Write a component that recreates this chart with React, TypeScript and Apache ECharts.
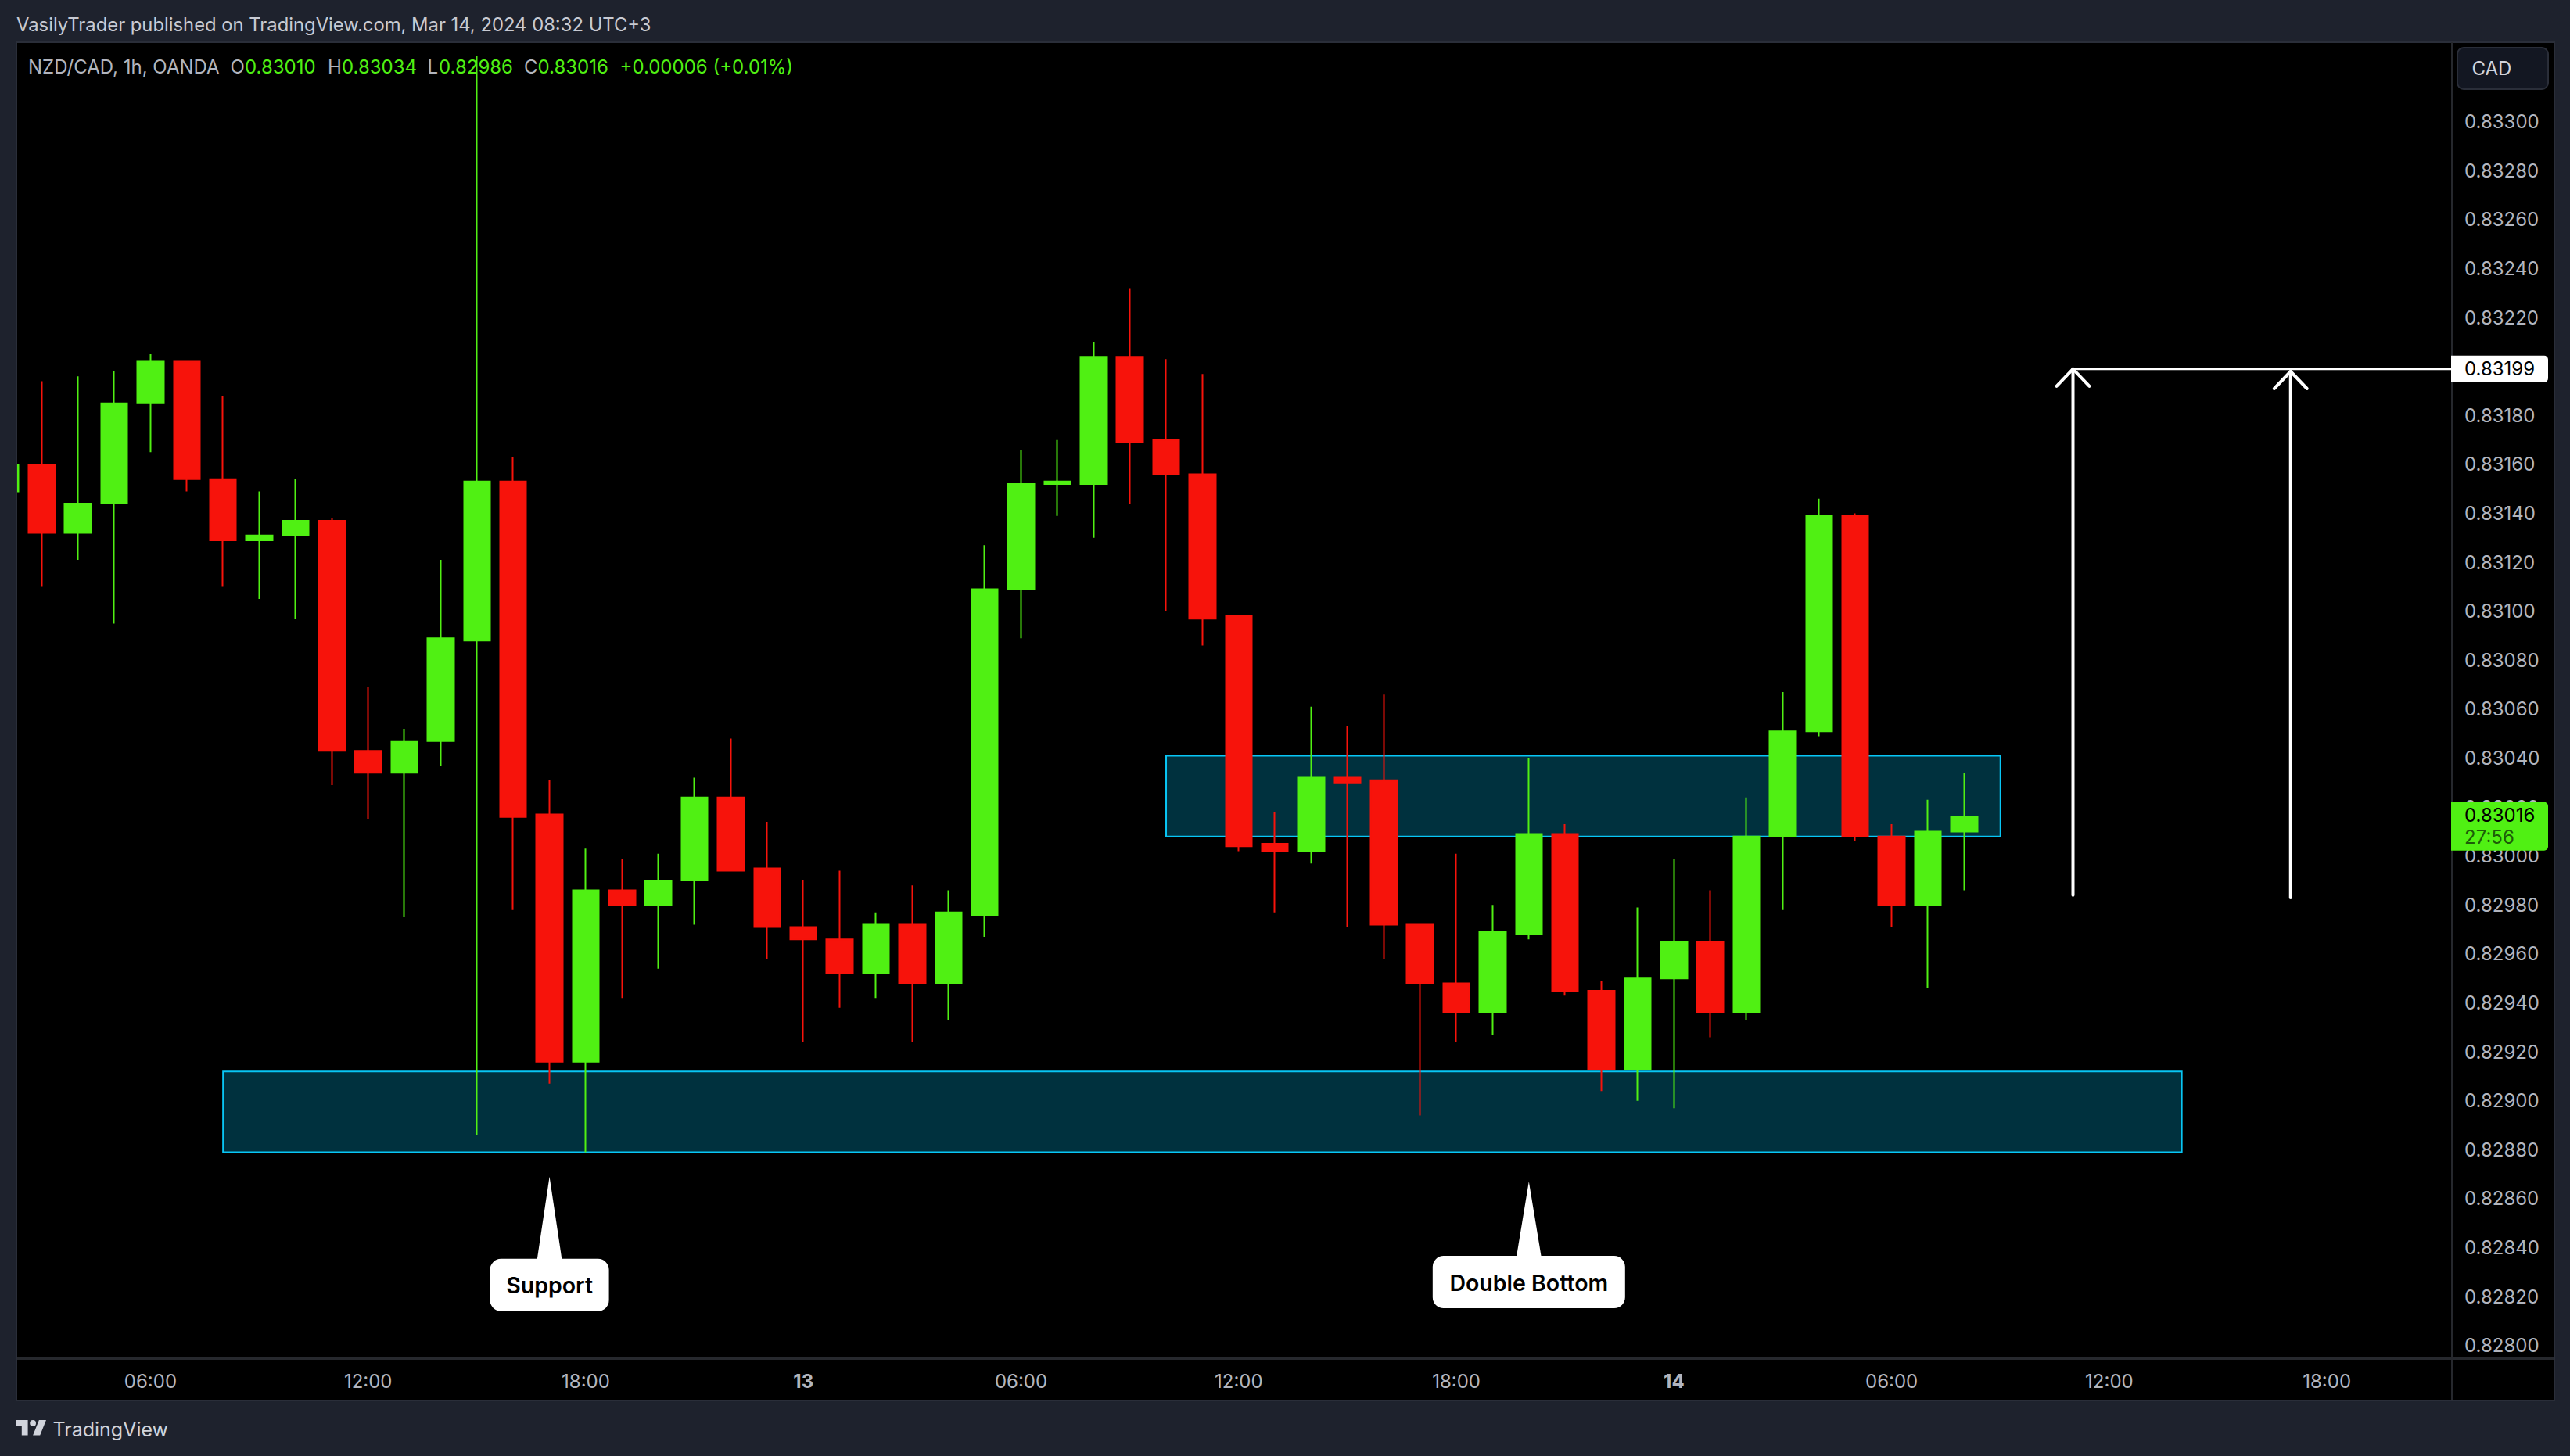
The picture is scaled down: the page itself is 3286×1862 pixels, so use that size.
import React, { useEffect, useRef } from "react";
import * as echarts from "echarts";

// ---- data -------------------------------------------------------------
const opens = [0.83149,0.8316,0.83132,0.83144,0.83185,0.83202,0.83154,0.83129,0.83131,0.83137,0.83043,0.83034,0.83047,0.83088,0.83153,0.83017,0.82916,0.82986,0.8298,0.8299,0.83024,0.82995,0.82971,0.82966,0.82952,0.82972,0.82948,0.82976,0.83109,0.83152,0.83152,0.83204,0.8317,0.83156,0.83098,0.83005,0.83002,0.83032,0.83031,0.82972,0.82948,0.82936,0.82968,0.83009,0.82945,0.82913,0.8295,0.82965,0.82936,0.83008,0.83051,0.83139,0.83008,0.8298,0.8301];
const closes = [0.8316,0.83132,0.83144,0.83185,0.83202,0.83154,0.83129,0.83131,0.83137,0.83043,0.83034,0.83047,0.83089,0.83153,0.83016,0.82916,0.82986,0.8298,0.8299,0.83024,0.82994,0.82971,0.82966,0.82952,0.82972,0.82948,0.82977,0.83109,0.83152,0.83153,0.83204,0.83169,0.83156,0.83097,0.83004,0.83002,0.83032,0.8303,0.82972,0.82948,0.82936,0.82969,0.83009,0.82945,0.82913,0.8295,0.82965,0.82936,0.83008,0.83051,0.83139,0.83008,0.8298,0.8301,0.83016];
const highs = [0.83165,0.83194,0.83196,0.83198,0.83205,0.83202,0.83188,0.83149,0.83154,0.83138,0.83069,0.83052,0.83121,0.83327,0.83163,0.83031,0.83003,0.82999,0.83001,0.83032,0.83048,0.83014,0.8299,0.82994,0.82977,0.82988,0.82986,0.83127,0.83166,0.8317,0.8321,0.83232,0.83203,0.83197,0.83098,0.83018,0.83061,0.83053,0.83066,0.82972,0.83001,0.8298,0.8304,0.83013,0.82949,0.82979,0.82999,0.82986,0.83024,0.83067,0.83146,0.8314,0.83013,0.83023,0.83034];
const lows = [0.8314,0.8311,0.83121,0.83095,0.83165,0.83149,0.8311,0.83105,0.83097,0.83029,0.83015,0.82975,0.83037,0.82886,0.82978,0.82907,0.82879,0.82942,0.82954,0.82972,0.82994,0.82958,0.82924,0.82938,0.82942,0.82924,0.82933,0.82967,0.83089,0.83139,0.8313,0.83144,0.831,0.83086,0.83002,0.82977,0.82997,0.82971,0.82958,0.82894,0.82924,0.82927,0.82966,0.82943,0.82904,0.829,0.82897,0.82926,0.82933,0.82978,0.83049,0.83006,0.82971,0.82946,0.82986];

const priceTicks = [0.833,0.8328,0.8326,0.8324,0.8322,0.832,0.8318,0.8316,0.8314,0.8312,0.831,0.8308,0.8306,0.8304,0.8302,0.83,0.8298,0.8296,0.8294,0.8292,0.829,0.8288,0.8286,0.8284,0.8282,0.828];
const timeTickBars = [4,10,16,22,28,34,40,46,52,58,64];
const timeTickLabels = ["06:00","12:00","18:00","13","06:00","12:00","18:00","14","06:00","12:00","18:00"];

// [bar from, bar to, top price, bottom price]
const zones = [
  [6, 60, 0.82912, 0.82879],
  [32, 55, 0.83041, 0.83008],
];
// [bar, tip price, tail price]
const arrows = [
  [57, 0.83199, 0.82984],
  [63, 0.83198, 0.82983],
];
const targetBar = [57];
const targetPrice = [0.83199];
const calloutBars = [15, 42];
const calloutTips = [0.82869, 0.82867];
const calloutTexts = ["Support", "Double Bottom"];

const UI = "Inter";
const GREEN = "#50f013";
const RED = "#f7130b";
const CYAN = "#08c6f5";
const ZONE_FILL = "#00313e";
const AXIS_TEXT = "#b2b5be";
const X_MIN = 0.304;
const X_MAX = 67.425;

const LOGO = "M14 6H2v6h6v9h6V6Zm12 15h-7l6-15h7l-6 15Zm-7-9a3 3 0 1 0 0-6 3 3 0 0 0 0 6Z";

export default function App() {
  const ref = useRef<HTMLDivElement>(null);
  useEffect(() => {
    echarts.graphic.registerShape("tvlogo", echarts.graphic.extendPath(LOGO, {}) as any);
    const chart = echarts.init(ref.current!, undefined, { renderer: "svg" });

    const candles = opens.map((o, i) => [i, o, closes[i], lows[i], highs[i]]);
    const txt = (text: string, x: number, y: number, fill: string, font: string, extra: any = {}) => ({
      type: "text", z: 50, silent: true,
      style: { text, x, y, fill, font, align: "left", verticalAlign: "middle", ...extra },
    });
    const leg = `24px ${UI}`;

    chart.setOption({
      animation: false,
      backgroundColor: "#1e222d",
      grid: { left: 21, top: 54, width: 3113, height: 1683, containLabel: false },
      xAxis: {
        type: "value", min: X_MIN, max: X_MAX, position: "bottom",
        splitLine: { show: false }, axisLine: { show: false }, axisTick: { show: false },
        axisLabel: {
          customValues: timeTickBars, margin: 17, color: AXIS_TEXT, fontFamily: UI, fontSize: 24,
          formatter: (v: number) => {
            const s = timeTickLabels[timeTickBars.indexOf(v)];
            return s && s.length === 2 ? `{b|${s}}` : s;
          },
          rich: { b: { fontWeight: 700, fontFamily: UI, fontSize: 24, color: AXIS_TEXT } },
        },
      },
      yAxis: {
        type: "value", min: 0.8279482, max: 0.833325, position: "right",
        splitLine: { show: false }, axisLine: { show: false }, axisTick: { show: false },
        axisLabel: {
          customValues: priceTicks, margin: 17, color: AXIS_TEXT, fontFamily: UI, fontSize: 24,
          formatter: (v: number) => v.toFixed(5), align: "left",
        },
      },
      series: [
        {
          type: "custom", name: "zones", z: 1, silent: true, clip: true,
          data: zones, encode: { x: [0, 1], y: [2, 3] },
          renderItem: (_p: any, api: any) => {
            const a = api.coord([api.value(0), api.value(2)]);
            const b = api.coord([api.value(1), api.value(3)]);
            return { type: "rect", shape: { x: a[0], y: a[1], width: b[0] - a[0], height: b[1] - a[1] },
              style: { fill: ZONE_FILL, stroke: CYAN, lineWidth: 2 } };
          },
        },
        {
          type: "candlestick", name: "NZD/CAD", z: 2, silent: true, barWidth: 34,
          data: candles,
          itemStyle: { color: GREEN, color0: RED, borderColor: GREEN, borderColor0: RED, borderWidth: 2 },
        },
        {
          type: "custom", name: "arrows", z: 3, silent: true,
          data: arrows, encode: { x: 0, y: [1, 2] },
          renderItem: (_p: any, api: any) => {
            const t = api.coord([api.value(0), api.value(1)]);
            const b = api.coord([api.value(0), api.value(2)]);
            const st = { stroke: "#ffffff", lineWidth: 4, fill: "none", lineCap: "round" };
            return { type: "group", children: [
              { type: "line", shape: { x1: t[0], y1: t[1], x2: b[0], y2: b[1] }, style: st },
              { type: "polyline", shape: { points: [[t[0] - 21, t[1] + 22], [t[0], t[1]], [t[0] + 21, t[1] + 22]] }, style: st },
            ] };
          },
        },
        {
          type: "custom", name: "target", z: 3, silent: true,
          data: targetBar.map((b, i) => [b, targetPrice[i]]), encode: { x: 0, y: 1 },
          renderItem: (p: any, api: any) => {
            const a = api.coord([api.value(0), api.value(1)]);
            return { type: "line", shape: { x1: a[0], y1: a[1], x2: p.coordSys.x + p.coordSys.width, y2: a[1] },
              style: { stroke: "#ffffff", lineWidth: 3 } };
          },
        },
        {
          type: "custom", name: "callouts", z: 4, silent: true,
          data: calloutBars.map((b, i) => [b, calloutTips[i], i]), encode: { x: 0, y: 1 },
          renderItem: (_p: any, api: any) => {
            const t = api.coord([api.value(0), api.value(1)]);
            const i = api.value(2);
            const bw = i === 0 ? 152 : 246;
            const top = t[1] + (i === 0 ? 105 : 95);
            const half = 16;
            const x = t[0] - bw / 2;
            return { type: "group", children: [
              { type: "polygon", shape: { points: [[t[0], t[1]], [t[0] + half, top + 2], [t[0] - half, top + 2]] }, style: { fill: "#fff" } },
              { type: "rect", shape: { x, y: top, width: bw, height: 67, r: 14 }, style: { fill: "#fff" } },
              { type: "text", style: { text: calloutTexts[i], x: t[0], y: top + 34, fill: "#000", font: `600 28.5px ${UI}`, align: "center", verticalAlign: "middle" } },
            ] };
          },
        },
        {
          type: "custom", name: "priceTags", z: 10, silent: true,
          data: [[X_MAX, targetPrice[0], 0], [X_MAX, closes[closes.length - 1], 1]], encode: { x: 0, y: 1 },
          renderItem: (_p: any, api: any) => {
            const a = api.coord([api.value(0), api.value(1)]);
            const isClose = api.value(2) === 1;
            const label = api.value(1).toFixed(5);
            if (!isClose) {
              return { type: "group", children: [
                { type: "rect", shape: { x: a[0], y: a[1] - 17, width: 124, height: 34, r: [0, 5, 5, 0] }, style: { fill: "#fff" } },
                { type: "text", style: { text: label, x: a[0] + 17, y: a[1], fill: "#000", font: `24px ${UI}`, align: "left", verticalAlign: "middle" } },
              ] };
            }
            return { type: "group", children: [
              { type: "rect", shape: { x: a[0], y: a[1] - 19, width: 124, height: 62, r: [0, 5, 5, 0] }, style: { fill: GREEN } },
              { type: "text", style: { text: label, x: a[0] + 17, y: a[1] - 2, fill: "#000", font: `24px ${UI}`, align: "left", verticalAlign: "middle" } },
              { type: "text", style: { text: "27:56", x: a[0] + 17, y: a[1] + 26, fill: "#1d5c08", font: `24px ${UI}`, align: "left", verticalAlign: "middle" } },
            ] };
          },
        },
      ],
      graphic: {
        elements: [
          { type: "rect", z: -1, silent: true, shape: { x: 21, y: 54, width: 3245, height: 1737 }, style: { fill: "#000", stroke: "#2a2e39", lineWidth: 2 } },
          { type: "line", z: -1, silent: true, shape: { x1: 21, y1: 1737.5, x2: 3266, y2: 1737.5 }, style: { stroke: "#26282d", lineWidth: 3 } },
          { type: "line", z: -1, silent: true, shape: { x1: 3135.5, y1: 54, x2: 3135.5, y2: 1791 }, style: { stroke: "#26282d", lineWidth: 3 } },
          // margin to the left of the plot, above the first candle that the plot cuts off
          { type: "rect", z: 5, silent: true, shape: { x: 0, y: 54, width: 20, height: 1738 }, style: { fill: "#1e222d" } },
          { type: "line", z: 5, silent: true, shape: { x1: 21, y1: 54, x2: 21, y2: 1791 }, style: { stroke: "#2a2e39", lineWidth: 2 } },
          { type: "rect", z: 1, silent: true, shape: { x: 3142, y: 61, width: 116, height: 53, r: 8 }, style: { fill: "#131722", stroke: "#2a2e39", lineWidth: 2 } },
          txt("CAD", 3160.5, 87, "#d1d4dc", leg),
          txt("VasilyTrader published on TradingView.com, Mar 14, 2024 08:32 UTC+3", 21, 31.5, "#c8cad2", `23.8px ${UI}`),
          txt("NZD/CAD, 1h, OANDA", 36, 85.5, "#b2b5be", leg),
          txt("O", 294.5, 85.5, "#b2b5be", leg),
          txt("0.83010", 313, 85.5, GREEN, leg),
          txt("H", 419, 85.5, "#b2b5be", leg),
          txt("0.83034", 437, 85.5, GREEN, leg),
          txt("L", 546.5, 85.5, "#b2b5be", leg),
          txt("0.82986", 561, 85.5, GREEN, leg),
          txt("C", 670, 85.5, "#b2b5be", leg),
          txt("0.83016", 687.5, 85.5, GREEN, leg),
          txt("+0.00006 (+0.01%)", 792.5, 85.5, GREEN, leg),
          { type: "tvlogo", z: 50, silent: true, x: 17.4, y: 1808.2, scaleX: 1.3, scaleY: 1.3, style: { fill: "#d1d4dc" } },
          txt("TradingView", 67.5, 1828, "#d1d4dc", `25px ${UI}`),
        ],
      },
    });
    return () => chart.dispose();
  }, []);
  return <div ref={ref} style={{ position: "fixed", left: 0, top: 0, width: 3286, height: 1862 }} />;
}
